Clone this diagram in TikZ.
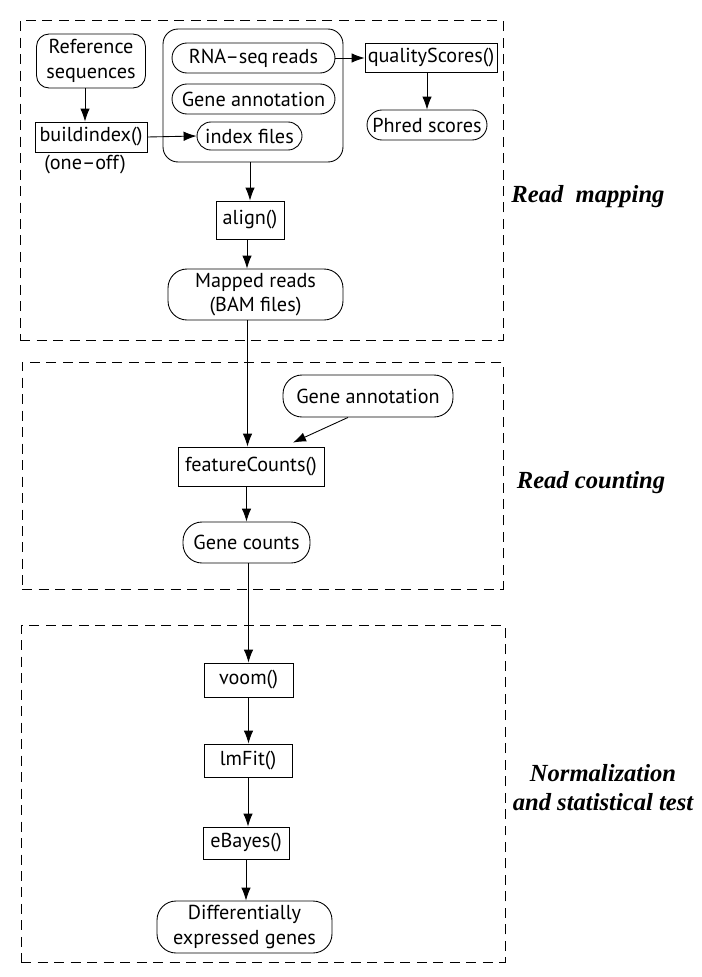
\documentclass[tikz,border=0pt]{standalone}
\usepackage{fontspec}
\setmainfont{PT Sans}
\newfontfamily\labelfont{Liberation Serif}
\usetikzlibrary{positioning, arrows.meta, calc}

\begin{document}
\begin{tikzpicture}[x=0.02cm, y=-0.02cm, font=\fontsize{11.5}{14}\selectfont,
		funct/.style={draw, rectangle, line width=0.5pt, inner sep=0pt, text centered},
		data/.style={draw, rectangle, rounded corners=0.3cm, line width=0.5pt, inner sep=0pt, align=center},
		stage/.style={draw, rectangle, dash pattern=on 0.2cm off 0.13cm, line width=0.5pt, inner sep=0pt},
		stagename/.style={font={\labelfont\fontsize{14}{16.5}\selectfont\bfseries\itshape}, align=center},
		link/.style={-{Latex[length=0.26cm,width=0.19cm]}, line width=0.5pt}]
		\useasboundingbox (0,0) rectangle (702,977);
		
		% stages
		\node (Mapping Stage) at (261.5,180) [stage, minimum width=9.66cm, minimum height=6.4cm]{};
		\node (Counting Stage) at (262.5,475.5) [stage, minimum width=9.62cm, minimum height=4.54cm]{};
		\node (Testing Stage) at (263,793.5) [stage, minimum width=9.68cm, minimum height=6.74cm]{};
		
		\node (Scritto1) at (588,197) [stagename]{Read\ \ mapping};
		\node (Scritto2) at (591,483) [stagename]{Read counting};
		\node (Scritto3) at (603,788) [stagename]{Normalization\\and statistical test};
		
		% read mapping
		\node (Reference) at (91,61) [data, minimum width=2.18cm, minimum height=1.08cm, rounded corners=0.25cm]{Reference\\sequences};
		\node (Build Index) at (91,137) [funct, minimum width=2.24cm, minimum height=0.6cm]{buildindex()};
		\node (One Off) at (85,165) {(one--off)};
		\node (Inputs) at (253,95.5) [data, minimum width=3.6cm, minimum height=2.66cm]{};
		\node (Reads) at (253.5,58) [data, minimum width=3.26cm, minimum height=0.6cm]{RNA--seq\,reads};
		\node (Annotation) at (253.5,99) [data, minimum width=3.26cm, minimum height=0.6cm]{Gene annotation};
		\node (Index Files) at (249.5,136) [data, minimum width=2.1cm, minimum height=0.56cm, rounded corners=0.28cm]{index files};
		\node (Quality) at (431,57.5) [funct, minimum width=2.64cm, minimum height=0.58cm]{qualityScores()};
		\node (Phred) at (427,125) [data, minimum width=2.4cm, minimum height=0.6cm]{Phred scores};
		\node (Align) at (250,220) [funct, minimum width=1.36cm, minimum height=0.76cm]{align()};
		\node (Mapped) at (255.5,294.5) [data, minimum width=3.5cm, minimum height=1.02cm, rounded corners=0.38cm]{Mapped reads\\(BAM files)};
		
		% read counting
		\node (Annotation2) at (368,396) [data, minimum width=3.4cm, minimum height=0.84cm, rounded corners=0.38cm]{Gene annotation};
		\node (Feature Counts) at (251,466.5) [funct, minimum width=2.92cm, minimum height=0.78cm]{featureCounts()};
		\node (Gene Counts) at (246.5,542.5) [data, minimum width=2.54cm, minimum height=0.82cm, rounded corners=0.38cm]{Gene counts};
		
		% normalization and test
		\node (Voom) at (248.5,680) [funct, minimum width=1.78cm, minimum height=0.68cm]{voom()};
		\node (LmFit) at (248,760.5) [funct, minimum width=1.76cm, minimum height=0.66cm]{lmFit()};
		\node (EBayes) at (246,843) [funct, minimum width=1.72cm, minimum height=0.64cm]{eBayes()};
		\node (DE Genes) at (244.5,927) [data, minimum width=3.5cm, minimum height=1.04cm, rounded corners=0.38cm]{Differentially\\expressed genes};
		
		\draw[link] ([xshift=-0.12cm]Reference.south) -- ([xshift=-0.12cm]Build Index.north);
		\draw[link] (Build Index.east) -- (Index Files.west);
		\draw[link] (Reads.east) -- (Reads.east -| Quality.west);
		\draw[link] (Phred.north |- Quality.south) -- (Phred.north);
		\draw[link] (Align.north |- Inputs.south) -- (Align.north);
		\draw[link] ([xshift=-0.06cm]Align.south) -- ([xshift=-0.06cm]Align.south |- Mapped.north);
		\draw[link] ([xshift=-0.16cm]Mapped.south) -- ([xshift=-0.16cm]Mapped.south |- Feature Counts.north);
		\draw[link] ([xshift=-0.4cm]Annotation2.south) -- ([xshift=0.84cm,yshift=0.08cm]Feature Counts.north);
		\draw[link] (Gene Counts.north |- Feature Counts.south) -- (Gene Counts.north);
		\draw[link] (Voom.north |- Gene Counts.south) -- (Voom.north);
		\draw[link] (Voom.south) -- (Voom.south |- LmFit.north);
		\draw[link] (LmFit.south) -- (LmFit.south |- EBayes.north);
		\draw[link] (EBayes.south) -- (EBayes.south |- DE Genes.north);
\end{tikzpicture}
\end{document}
